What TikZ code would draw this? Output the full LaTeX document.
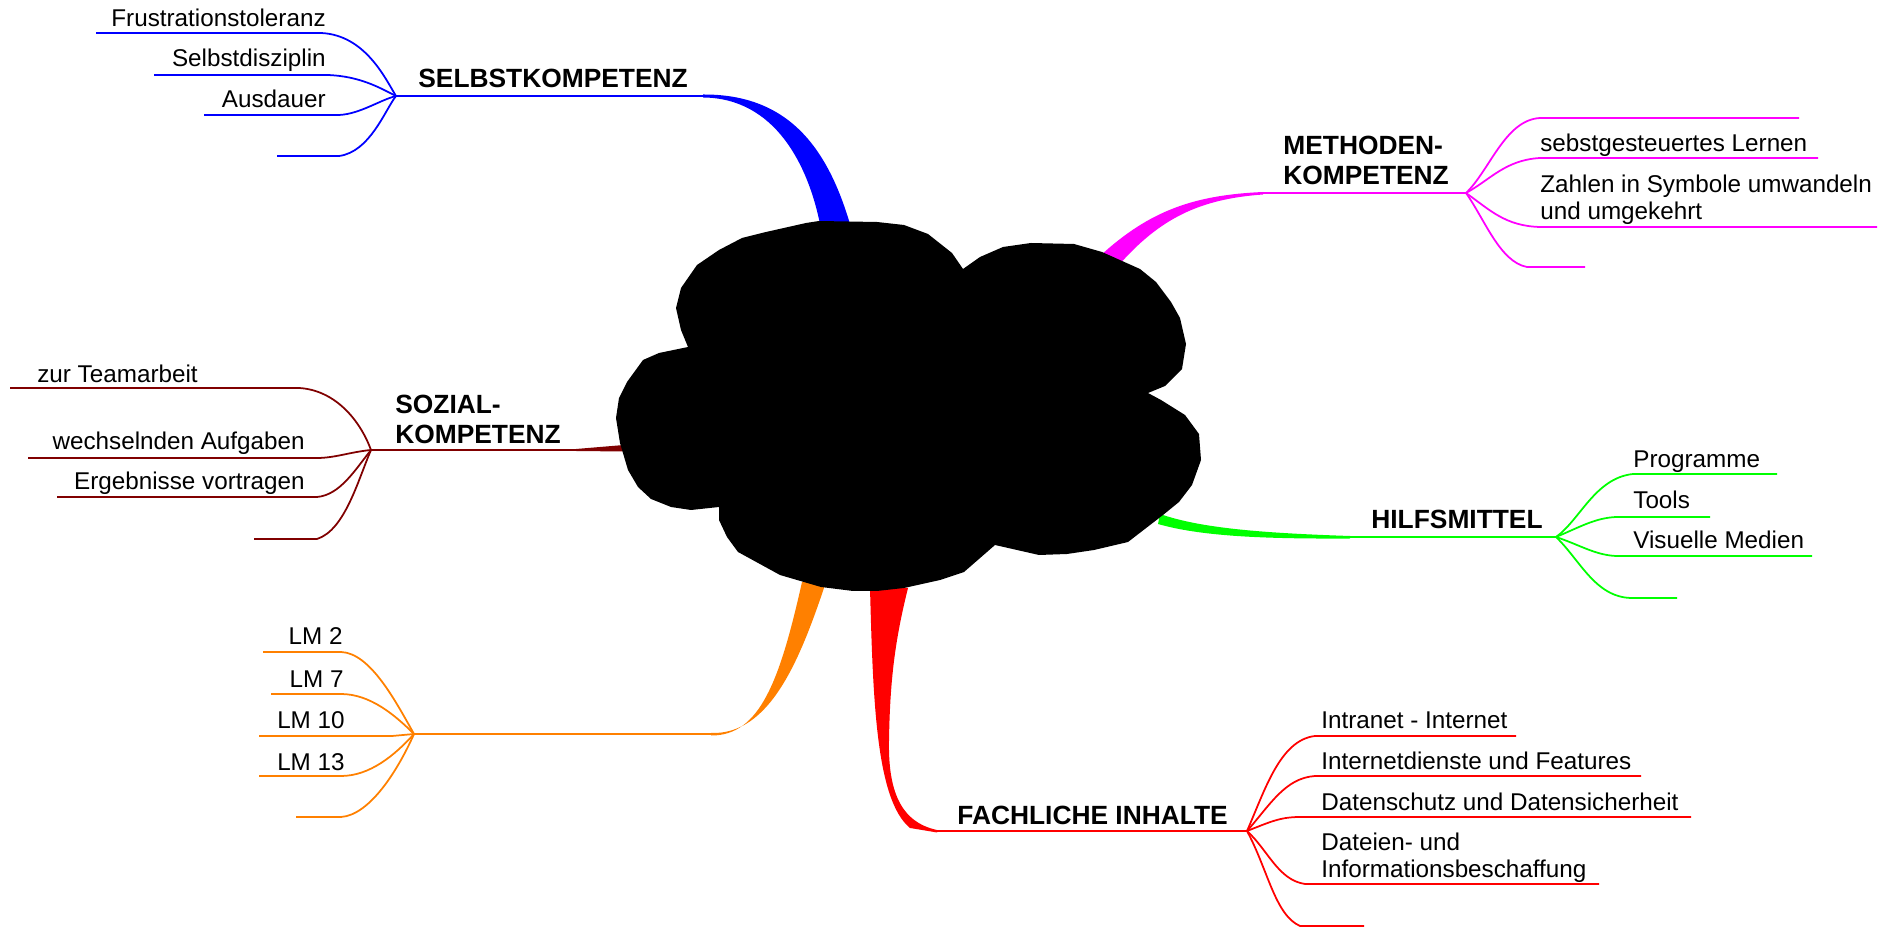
\documentclass[tikz,border=0pt]{standalone}
\usepackage{fontspec}
\setmainfont{Liberation Sans}
\definecolor{skblue}{RGB}{0,0,255}
\definecolor{mkpink}{RGB}{255,0,255}
\definecolor{szbrown}{RGB}{128,0,0}
\definecolor{hmgreen}{RGB}{0,255,0}
\definecolor{lmorange}{RGB}{255,128,0}
\definecolor{fired}{RGB}{255,0,0}
\begin{document}
\begin{tikzpicture}[x=0.02cm,y=-0.02cm,line join=round,
  twig/.style={line width=1pt},
  leaf/.style={inner sep=0pt,font=\fontsize{13.8}{15.2}\selectfont,align=left},
  head/.style={inner sep=0pt,font=\fontsize{15}{17}\selectfont\bfseries,align=left}]
\useasboundingbox (0,0) rectangle (1883,928);
% hubs
\coordinate (sk) at (396,96);
\coordinate (mk) at (1466,193);
\coordinate (sz) at (371,450);
\coordinate (hm) at (1556,537);
\coordinate (lm) at (414,734);
\coordinate (fi) at (1247,831);
\coordinate (sk-root) at (703,96);
\coordinate (mk-root) at (1263,193);
\coordinate (sz-root) at (576,450);
\coordinate (hm-root) at (1350,537);
\coordinate (lm-root) at (711,734);
\coordinate (fi-root) at (937,831);
% thick limbs
\fill[skblue] (703,94.5) .. controls (790,94) and (828,150) .. (850,224) -- (820,224) .. controls (808,165) and (775,98) .. (703,97.5) -- cycle;
\fill[mkpink] (1100,256) .. controls (1150,210) and (1195,195) .. (1263,192) -- (1263,194.5) .. controls (1200,199) and (1160,218) .. (1118,266) -- cycle;
\fill[szbrown] (576,449) -- (624,445) -- (624,451.5) -- (576,451) -- cycle;
\fill[hmgreen] (1160,514) .. controls (1200,528) and (1260,533) .. (1350,536) -- (1350,538.5) .. controls (1260,539) and (1200,536) .. (1158,524) -- cycle;
\fill[lmorange] (711,733) .. controls (770,735) and (800,660) .. (826,582) -- (802,582) .. controls (780,680) and (760,736) .. (711,735.5) -- cycle;
\fill[fired] (870,588) .. controls (873,700) and (876,800) .. (910,828) -- (937,832.5) -- (937,830) .. controls (900,822) and (888,790) .. (889,740) .. controls (890,680) and (895,640) .. (908,588) -- cycle;
% cloud
\fill[black] (819,221) -- (877,222) -- (904,225) -- (928,234) -- (952,253) -- (963,269)
  -- (980,257) -- (1003,247) -- (1031,243) -- (1074,244) -- (1102,252) -- (1140,269)
  -- (1156,282) -- (1171,302) -- (1180,318) -- (1186,344) -- (1182,369) -- (1165,386)
  -- (1148,393) -- (1161,400) -- (1185,415) -- (1199,434) -- (1201,460) -- (1192,485)
  -- (1179,502) -- (1163,515) -- (1128,542) -- (1094,550) -- (1067,554) -- (1039,555)
  -- (995,545) -- (964,572) -- (940,580) -- (904,588) -- (877,591) -- (853,591)
  -- (821,587) -- (780,575) -- (738,552) -- (727,537) -- (719,520) -- (719,507)
  -- (691,510) -- (671,507) -- (651,499) -- (638,487) -- (628,470) -- (620,443)
  -- (616,418) -- (619,398) -- (627,382) -- (643,360) -- (659,353) -- (688,347)
  -- (681,330) -- (676,308) -- (681,288) -- (697,265) -- (719,250) -- (742,238)
  -- (766,232) -- (806,223) -- cycle;
% SELBSTKOMPETENZ
\draw[twig,skblue] (sk) -- (sk-root);
\draw[twig,skblue] (sk) .. controls (385,78) and (365,35) .. (321,33) -- (96,33);
\draw[twig,skblue] (sk) .. controls (380,88) and (360,76) .. (327,75) -- (154,75);
\draw[twig,skblue] (sk) .. controls (380,100) and (360,114) .. (339,115) -- (204,115);
\draw[twig,skblue] (sk) .. controls (385,110) and (370,152) .. (339,156) -- (277,156);
\node[head,anchor=base west] (selbst) at (418,88) {SELBSTKOMPETENZ};
\node[leaf,anchor=base east] (frust) at (326,27) {Frustrationstoleranz};
\node[leaf,anchor=base east] (disz) at (326,67) {Selbstdisziplin};
\node[leaf,anchor=base east] (ausd) at (326,108) {Ausdauer};
% METHODENKOMPETENZ
\draw[twig,mkpink] (mk-root) -- (mk);
\draw[twig,mkpink] (mk) .. controls (1490,170) and (1505,120) .. (1540,118) -- (1799,118);
\draw[twig,mkpink] (mk) .. controls (1490,180) and (1505,160) .. (1540,158) -- (1818,158);
\draw[twig,mkpink] (mk) .. controls (1490,210) and (1505,226) .. (1540,227) -- (1877,227);
\draw[twig,mkpink] (mk) .. controls (1485,220) and (1500,262) .. (1527,267) -- (1585,267);
\node[head,anchor=north west] (methoden) at (1283,136) {METHODEN-\\KOMPETENZ};
\node[leaf,anchor=base west] (lernen) at (1540,152) {sebstgesteuertes Lernen};
\node[leaf,anchor=north west] (zahlen) at (1540,174.5) {Zahlen in Symbole umwandeln\\und umgekehrt};
% SOZIALKOMPETENZ
\draw[twig,szbrown] (sz) -- (sz-root);
\draw[twig,szbrown] (sz) .. controls (360,420) and (335,390) .. (299,388) -- (10,388);
\draw[twig,szbrown] (sz) .. controls (350,452) and (335,458) .. (317,458) -- (28,458);
\draw[twig,szbrown] (sz) .. controls (355,470) and (340,495) .. (317,497) -- (57,497);
\draw[twig,szbrown] (sz) .. controls (358,480) and (345,530) .. (317,539) -- (254,539);
\node[head,anchor=north west] (sozial) at (395,395) {SOZIAL-\\KOMPETENZ};
\node[leaf,anchor=base west] (team) at (37,383) {zur Teamarbeit};
\node[leaf,anchor=base east] (wechsel) at (305,450) {wechselnden Aufgaben};
\node[leaf,anchor=base east] (vortrag) at (305,490) {Ergebnisse vortragen};
% HILFSMITTEL
\draw[twig,hmgreen] (hm-root) -- (hm);
\draw[twig,hmgreen] (hm) .. controls (1580,520) and (1595,478) .. (1633,474) -- (1777,474);
\draw[twig,hmgreen] (hm) .. controls (1580,527) and (1595,518) .. (1616,517) -- (1710,517);
\draw[twig,hmgreen] (hm) .. controls (1580,545) and (1595,555) .. (1616,556) -- (1812,556);
\draw[twig,hmgreen] (hm) .. controls (1580,560) and (1595,597) .. (1631,598) -- (1677,598);
\node[head,anchor=base west] (hilfs) at (1371,529) {HILFSMITTEL};
\node[leaf,anchor=base west] (progr) at (1633,468) {Programme};
\node[leaf,anchor=base west] (tools) at (1633,509) {Tools};
\node[leaf,anchor=base west] (medien) at (1633,549) {Visuelle Medien};
% LM
\draw[twig,lmorange] (lm) -- (lm-root);
\draw[twig,lmorange] (lm) .. controls (395,700) and (370,653) .. (341,652) -- (263,652);
\draw[twig,lmorange] (lm) .. controls (395,715) and (370,694) .. (341,694) -- (271,694);
\draw[twig,lmorange] (lm) -- (392,736) -- (259,736);
\draw[twig,lmorange] (lm) .. controls (395,755) and (370,776) .. (341,776) -- (259,776);
\draw[twig,lmorange] (lm) .. controls (398,770) and (370,815) .. (341,817) -- (296,817);
\node[leaf,anchor=base east] (lm2) at (343,645) {LM 2};
\node[leaf,anchor=base east] (lm7) at (344,687) {LM 7};
\node[leaf,anchor=base east] (lm10) at (345,728) {LM 10};
\node[leaf,anchor=base east] (lm13) at (345,770) {LM 13};
% FACHLICHE INHALTE
\draw[twig,fired] (fi-root) -- (fi);
\draw[twig,fired] (fi) .. controls (1265,790) and (1280,740) .. (1315,736) -- (1516,736);
\draw[twig,fired] (fi) .. controls (1270,805) and (1285,778) .. (1315,776) -- (1641,776);
\draw[twig,fired] (fi) .. controls (1270,822) and (1280,817) .. (1300,817) -- (1691,817);
\draw[twig,fired] (fi) .. controls (1268,850) and (1278,880) .. (1305,884) -- (1599,884);
\draw[twig,fired] (fi) .. controls (1268,870) and (1275,915) .. (1300,926) -- (1364,926);
\node[head,anchor=base west] (fach) at (957,824) {FACHLICHE INHALTE};
\node[leaf,anchor=base west] (intra) at (1321,728) {Intranet - Internet};
\node[leaf,anchor=base west] (dienste) at (1321,769) {Internetdienste und Features};
\node[leaf,anchor=base west] (schutz) at (1321,810) {Datenschutz und Datensicherheit};
\node[leaf,anchor=north west] (dateien) at (1321,832.5) {Dateien- und\\Informationsbeschaffung};
\end{tikzpicture}
\end{document}
